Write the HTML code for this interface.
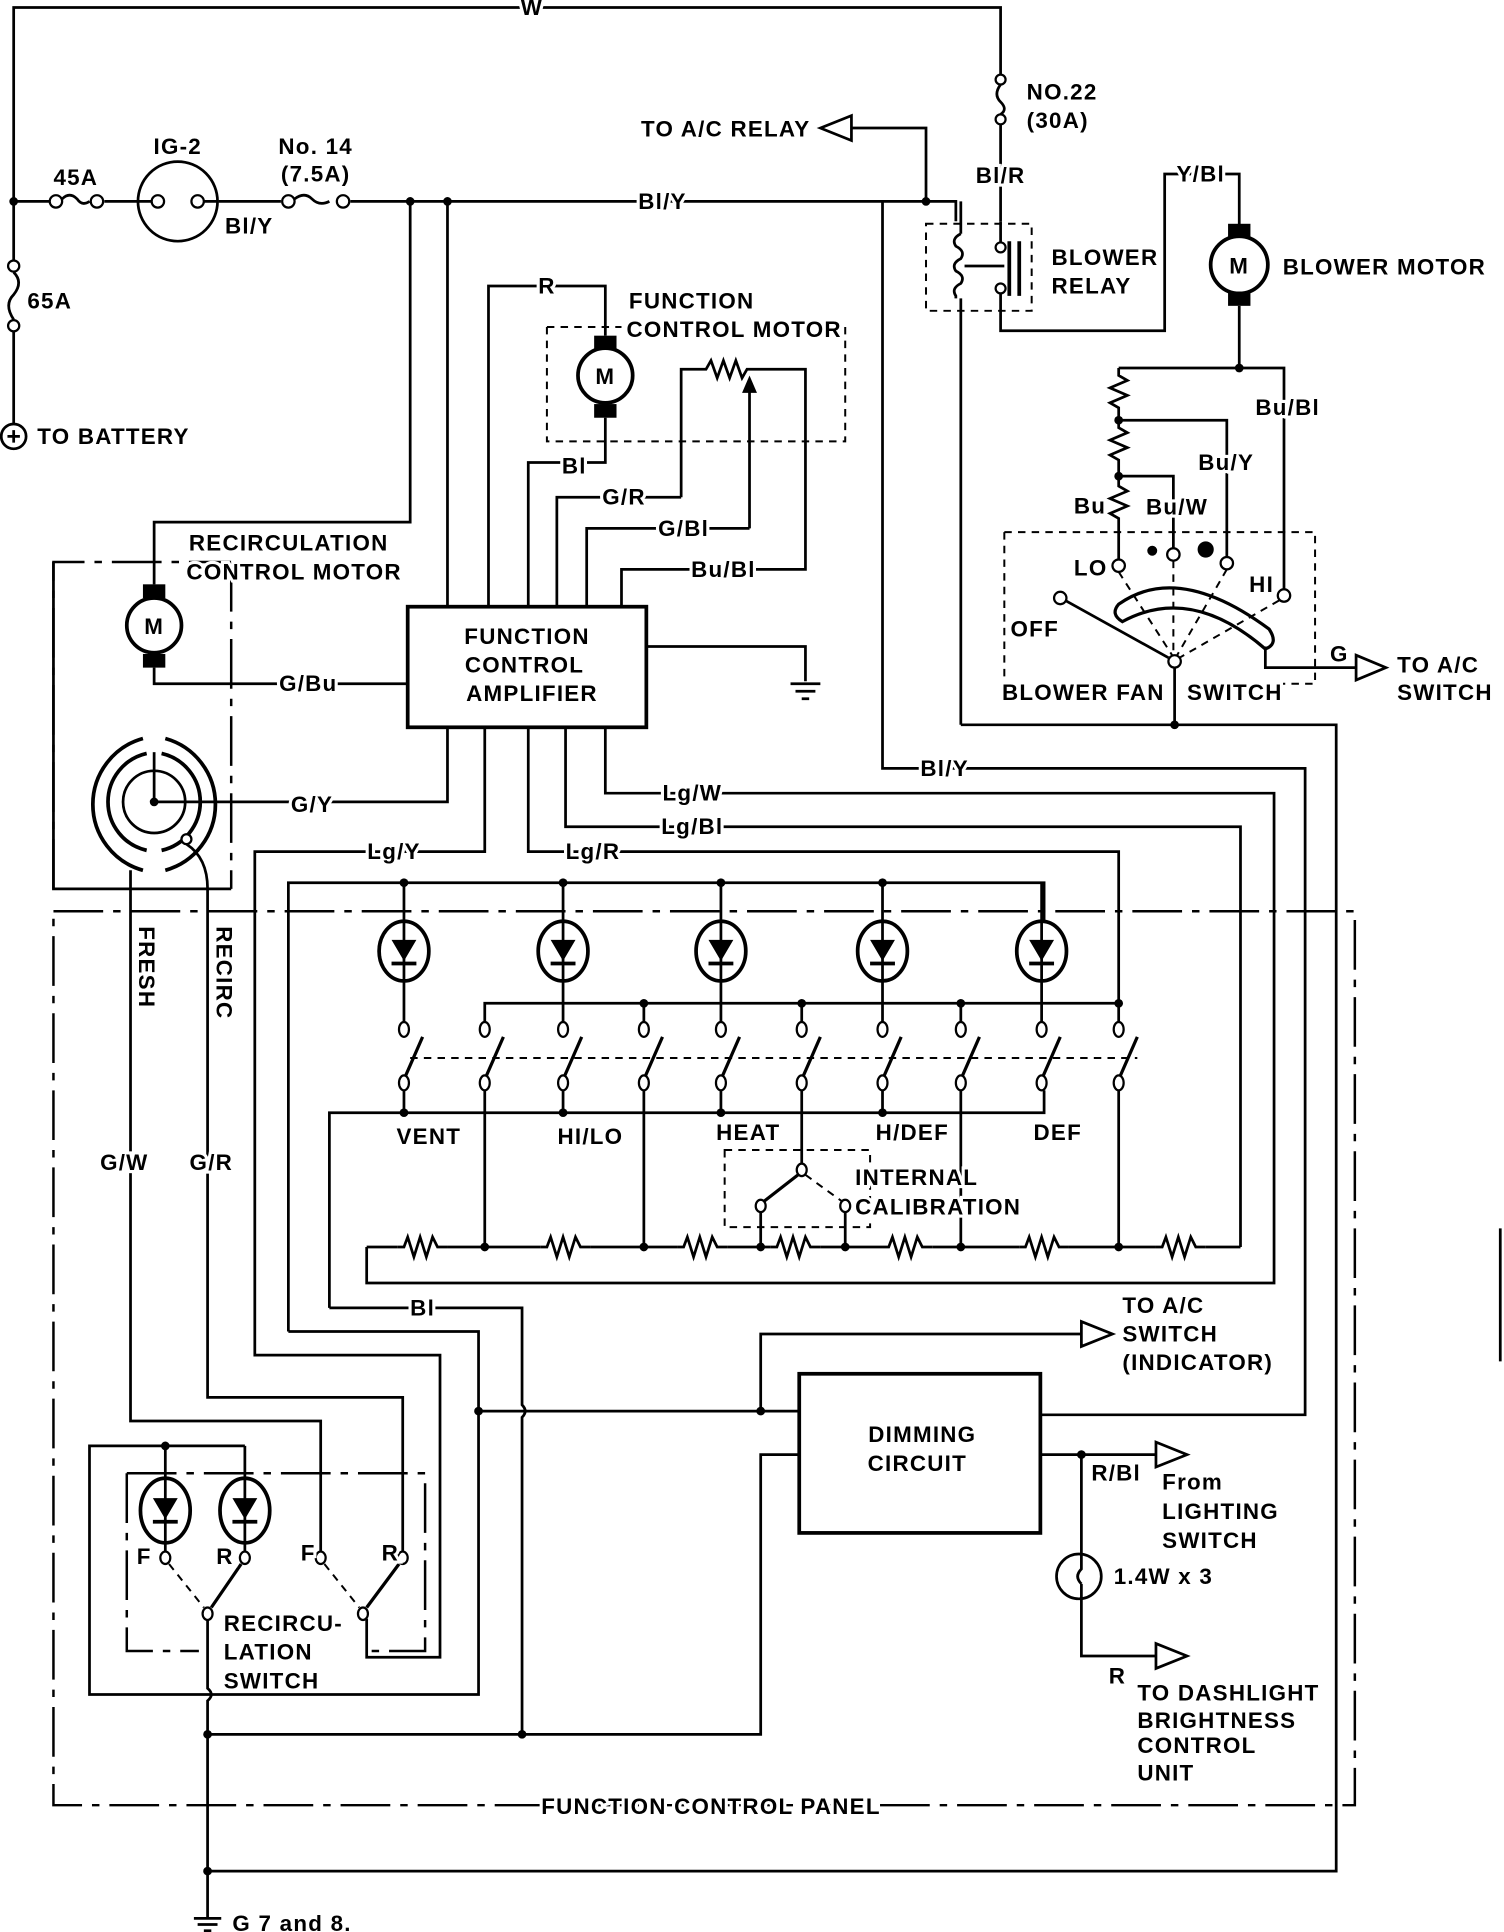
<!DOCTYPE html>
<html><head><meta charset="utf-8">
<style>
html,body{margin:0;padding:0;background:#fff;}
svg{display:block;}
text{font-family:"Liberation Sans",sans-serif;font-weight:bold;font-size:18px;fill:#000;stroke:#fff;stroke-width:5px;paint-order:stroke;letter-spacing:1px;}
.w{fill:none;stroke:#000;stroke-width:2.2;}
.t{fill:none;stroke:#000;stroke-width:3;}
.d{fill:none;stroke:#000;stroke-width:2;stroke-dasharray:40 8 6 8;}
.ds{fill:none;stroke:#000;stroke-width:1.6;stroke-dasharray:6 5;}
.c{fill:#fff;stroke:#000;stroke-width:1.8;}
.dot{fill:#000;stroke:none;}
</style></head>
<body>
<svg width="1504" height="1932" viewBox="0 0 1210 1554" preserveAspectRatio="none" xmlns="http://www.w3.org/2000/svg">
<rect width="1210" height="1554" fill="#fff"/>

<path class="w" d="M11 162 V6 H805 V60"/>
<path class="w" d="M805 100 V178"/>
<circle class="c" cx="805" cy="64" r="4"/><circle class="c" cx="805" cy="96" r="4"/>
<path class="w" d="M805 68 q-6 8 0 14 q6 6 0 10"/>
<path class="w" d="M11 162 H40"/><path class="w" d="M84 162 H112"/><path class="w" d="M176 162 H226"/>
<path class="w" d="M282 162 H769 V178"/>
<circle class="c" cx="45" cy="162" r="5"/><circle class="c" cx="78" cy="162" r="5"/>
<path class="w" d="M50 160 q6 -6 12 0 q4 6 10 2"/>
<circle class="w" cx="143" cy="162" r="32"/>
<circle class="c" cx="127" cy="162" r="5"/><circle class="c" cx="159" cy="162" r="5"/>
<path class="w" d="M111 162 H122 M164 162 H176"/>
<circle class="c" cx="232" cy="162" r="5"/><circle class="c" cx="276" cy="162" r="5"/>
<path class="w" d="M237 160 q8 -6 14 0 q6 6 14 2"/>
<circle class="dot" cx="11" cy="162" r="3.5"/>
<circle class="dot" cx="330" cy="162" r="3.5"/>
<circle class="dot" cx="360" cy="162" r="3.5"/>
<circle class="dot" cx="745" cy="162" r="3.5"/>
<path class="w" d="M11 162 V210"/>
<circle class="c" cx="11" cy="214" r="4.5"/><circle class="c" cx="11" cy="262" r="4.5"/>
<path class="w" d="M11 219 q8 8 0 18 q-8 8 0 20"/>
<path class="w" d="M11 267 V341"/>
<circle class="w" cx="11" cy="351" r="10"/>
<path class="w" d="M6 351 H16 M11 346 V356"/>

<path class="w" d="M745 162 V103 H685"/>
<path class="w" d="M685 93 L660 103 L685 113 Z"/>

<path class="ds" d="M745 180 H830 V250 H745 Z"/>
<path class="w" d="M773 162 V188 M773 240 V583"/>
<path class="w" d="M773 188 q-8 4 -4 10 q8 4 4 10 q-8 4 -4 10 q8 4 4 10 q-8 4 -4 10 V240"/>
<path class="w" d="M776 214 H808"/>
<path class="t" d="M812 194 V238 M820 194 V238"/>
<path class="w" d="M805 178 V195"/><circle class="c" cx="805" cy="199" r="4"/>
<circle class="c" cx="805" cy="232" r="4"/>
<path class="w" d="M805 236 V266 H937 V140 H997 V190"/>
<rect x="988" y="180" width="18" height="12" fill="#000"/>
<rect x="988" y="234" width="18" height="12" fill="#000"/>
<circle cx="997" cy="213" r="23" fill="#fff" stroke="#000" stroke-width="3"/>
<text x="997" y="220" text-anchor="middle" style="stroke:none">M</text>
<path class="w" d="M997 246 V296"/>
<circle class="dot" cx="997" cy="296" r="3.5"/>
<path class="w" d="M900 296 H1033 V474"/>
<path class="w" d="M900 296 V302 l7 4 l-14 6 l14 6 l-14 6 l7 4 V338 V344 l7 4 l-14 6 l14 6 l-14 6 l7 4 V383 V391 l7 4 l-14 6 l14 6 l-14 6 l7 4 V450"/>
<circle class="dot" cx="900" cy="338" r="3.5"/>
<circle class="dot" cx="900" cy="383" r="3.5"/>
<path class="w" d="M900 338 H987 V448"/>
<path class="w" d="M900 383 H944 V441"/>
<path class="ds" d="M808 428 H1058 V550 H1030 M808 428 V550"/>
<circle class="c" cx="900" cy="455" r="5"/>
<circle class="c" cx="944" cy="446" r="5"/>
<circle class="c" cx="987" cy="453" r="5"/>
<circle class="c" cx="1033" cy="479" r="5"/>
<circle class="c" cx="853" cy="481" r="5"/>
<circle class="dot" cx="927" cy="443" r="4"/>
<circle class="dot" cx="970" cy="442" r="6.5"/>
<path class="w" d="M900 486 Q948 452 1021 506 Q1029 518 1018 522 Q958 470 903 500 Q893 494 900 486 Z" style="stroke-width:2.6"/>
<circle class="c" cx="945" cy="532" r="5"/>
<path class="w" d="M857 483 L940 529"/>
<path class="ds" d="M900 460 L943 527 M944 451 V527 M987 458 L947 527 M1029 483 L949 529"/>
<path class="w" d="M1018 520 V537 H1091"/>
<path class="w" d="M1091 527 L1115 537 L1091 547 Z"/>
<path class="w" d="M945 537 V583"/>
<path class="w" d="M773 583 H1075 V1505 H167"/>
<circle class="dot" cx="945" cy="583" r="3.5"/>

<path class="ds" d="M440 263 V355 H680 V263 H655 M440 263 H500"/>
<rect x="478" y="270" width="18" height="11" fill="#000"/>
<rect x="478" y="325" width="18" height="11" fill="#000"/>
<circle cx="487" cy="302" r="22" fill="#fff" stroke="#000" stroke-width="3"/>
<text x="487" y="309" text-anchor="middle" style="stroke:none">M</text>
<path class="w" d="M487 270 V230 H393 V488"/>
<path class="w" d="M487 336 V372 H425 V488"/>
<path class="w" d="M548 400 V297 H568 l4 -7 l5 14 l5 -14 l5 14 l5 -14 l5 14 l4 -7 H648 V458 H500 V488"/>
<path class="w" d="M603 425 V312"/>
<path class="dot" d="M597 316 L603 302 L609 316 Z"/>
<path class="w" d="M548 400 H448 V488"/>
<path class="w" d="M603 425 H472 V488"/>

<path class="w" d="M330 162 V420 H124 V470"/>
<path class="d" d="M186 452 V715 M43 715 V452 H186"/>
<path class="w" d="M43 452 V715 H186"/>
<rect x="115" y="470" width="18" height="11" fill="#000"/>
<rect x="115" y="526" width="18" height="11" fill="#000"/>
<circle cx="124" cy="503" r="22" fill="#fff" stroke="#000" stroke-width="3"/>
<text x="124" y="510" text-anchor="middle" style="stroke:none">M</text>
<path class="w" d="M124 537 V550 H328"/>
<path class="t" d="M115 594 A55 55 0 0 0 115 700 M133 594 A55 55 0 0 1 133 700"/>
<path class="t" d="M118 606 A40 40 0 0 0 118 684 M130 606 A40 40 0 0 1 130 684"/>
<circle class="w" cx="124" cy="645" r="25"/>
<path class="w" d="M124 605 V645"/>
<circle class="dot" cx="124" cy="645" r="3.5"/>
<circle class="c" cx="150" cy="675" r="4"/>
<path class="w" d="M124 645 H360 V585 M360 488 V162"/>
<path class="w" d="M105 700 V1143 H258 V1248"/>
<path class="w" d="M150 679 Q167 690 167 715 V1124 H324 V1248"/>

<rect x="328" y="488" width="192" height="97" fill="#fff" stroke="#000" stroke-width="3"/>
<path class="w" d="M520 520 H648 V548"/>
<path class="w" d="M636 550 H660 M640 556 H656 M645 562 H651"/>
<path class="w" d="M390 585 V685 H205 V1090 H354 V1333 H295 V1302"/>
<path class="w" d="M425 585 V685 H900 V807"/>
<path class="w" d="M455 585 V665 H998 V1003"/>
<path class="w" d="M487 585 V638 H1025 V1032 H295 V1003"/>
<path class="w" d="M710 162 V618 H1050 V1138 H837"/>

<path class="d" d="M43 733 H1090 V1452 H43 Z"/>
<path class="w" d="M1207 988 V1095"/>

<path class="w" d="M232 1071 V710 H840 V745"/>
<circle class="dot" cx="325" cy="710" r="3.5"/><circle class="dot" cx="453" cy="710" r="3.5"/>
<circle class="dot" cx="580" cy="710" r="3.5"/><circle class="dot" cx="710" cy="710" r="3.5"/>
<path class="w" d="M325 710 V823 M453 710 V823 M580 710 V823 M710 710 V823 M838 710 V823"/>
<ellipse cx="325" cy="765" rx="20" ry="24" fill="#fff" stroke="#000" stroke-width="3"/>
<ellipse cx="453" cy="765" rx="20" ry="24" fill="#fff" stroke="#000" stroke-width="3"/>
<ellipse cx="580" cy="765" rx="20" ry="24" fill="#fff" stroke="#000" stroke-width="3"/>
<ellipse cx="710" cy="765" rx="20" ry="24" fill="#fff" stroke="#000" stroke-width="3"/>
<ellipse cx="838" cy="765" rx="20" ry="24" fill="#fff" stroke="#000" stroke-width="3"/>
<path class="w" d="M325 741 V789 M453 741 V789 M580 741 V789 M710 741 V789 M838 741 V789"/>
<path class="dot" d="M315 756 H335 L325 773 Z M443 756 H463 L453 773 Z M570 756 H590 L580 773 Z M700 756 H720 L710 773 Z M828 756 H848 L838 773 Z"/>
<path class="t" d="M315 775 H335 M443 775 H463 M570 775 H590 M700 775 H720 M828 775 H848"/>
<path class="w" d="M390 823 V807 H900 V823"/>
<path class="w" d="M518 807 V823 M645 807 V823 M773 807 V823"/>
<circle class="dot" cx="518" cy="807" r="3.5"/><circle class="dot" cx="645" cy="807" r="3.5"/>
<circle class="dot" cx="773" cy="807" r="3.5"/><circle class="dot" cx="900" cy="807" r="3.5"/>
<path class="ds" d="M330 851 H915"/>
<g>
<ellipse class="c" cx="325" cy="828" rx="4" ry="6"/><ellipse class="c" cx="325" cy="871" rx="4" ry="6"/>
<ellipse class="c" cx="390" cy="828" rx="4" ry="6"/><ellipse class="c" cx="390" cy="871" rx="4" ry="6"/>
<ellipse class="c" cx="453" cy="828" rx="4" ry="6"/><ellipse class="c" cx="453" cy="871" rx="4" ry="6"/>
<ellipse class="c" cx="518" cy="828" rx="4" ry="6"/><ellipse class="c" cx="518" cy="871" rx="4" ry="6"/>
<ellipse class="c" cx="580" cy="828" rx="4" ry="6"/><ellipse class="c" cx="580" cy="871" rx="4" ry="6"/>
<ellipse class="c" cx="645" cy="828" rx="4" ry="6"/><ellipse class="c" cx="645" cy="871" rx="4" ry="6"/>
<ellipse class="c" cx="710" cy="828" rx="4" ry="6"/><ellipse class="c" cx="710" cy="871" rx="4" ry="6"/>
<ellipse class="c" cx="773" cy="828" rx="4" ry="6"/><ellipse class="c" cx="773" cy="871" rx="4" ry="6"/>
<ellipse class="c" cx="838" cy="828" rx="4" ry="6"/><ellipse class="c" cx="838" cy="871" rx="4" ry="6"/>
<ellipse class="c" cx="900" cy="828" rx="4" ry="6"/><ellipse class="c" cx="900" cy="871" rx="4" ry="6"/>
</g>
<path class="w" style="stroke-width:2.6" d="M326 866 L340 834 M391 866 L405 834 M454 866 L468 834 M519 866 L533 834 M581 866 L595 834 M646 866 L660 834 M711 866 L725 834 M774 866 L788 834 M839 866 L853 834 M901 866 L915 834"/>
<path class="w" d="M265 1052 V895 H840 V877"/>
<path class="w" d="M325 877 V895 M453 877 V895 M580 877 V895 M710 877 V895"/>
<circle class="dot" cx="325" cy="895" r="3.5"/><circle class="dot" cx="453" cy="895" r="3.5"/>
<circle class="dot" cx="580" cy="895" r="3.5"/><circle class="dot" cx="710" cy="895" r="3.5"/>
<path class="w" d="M390 877 V1003 M518 877 V1003 M645 877 V936 M773 877 V1003 M900 877 V1003"/>
<path class="ds" d="M583 925 H700 V987 H583 Z"/>
<ellipse class="c" cx="645" cy="941" rx="4" ry="5"/>
<ellipse class="c" cx="612" cy="970" rx="4" ry="5"/>
<ellipse class="c" cx="680" cy="970" rx="4" ry="5"/>
<path class="w" style="stroke-width:2.6" d="M642 945 L615 966"/>
<path class="ds" d="M648 945 L677 966"/>
<path class="w" d="M612 975 V1003 M680 975 V1003"/>
<path class="w" d="M295 1003 H998"/>
<g fill="#fff" stroke="none">
<rect x="320" y="995" width="40" height="16"/><rect x="435" y="995" width="40" height="16"/>
<rect x="545" y="995" width="40" height="16"/><rect x="620" y="995" width="40" height="16"/>
<rect x="710" y="995" width="40" height="16"/><rect x="820" y="995" width="40" height="16"/>
<rect x="930" y="995" width="40" height="16"/>
</g>
<path class="w" d="M320 1003 l5 0 l3 -8 l5 16 l5 -16 l5 16 l5 -16 l4 8 l8 0
M435 1003 l5 0 l3 -8 l5 16 l5 -16 l5 16 l5 -16 l4 8 l8 0
M545 1003 l5 0 l3 -8 l5 16 l5 -16 l5 16 l5 -16 l4 8 l8 0
M620 1003 l5 0 l3 -8 l5 16 l5 -16 l5 16 l5 -16 l4 8 l8 0
M710 1003 l5 0 l3 -8 l5 16 l5 -16 l5 16 l5 -16 l4 8 l8 0
M820 1003 l5 0 l3 -8 l5 16 l5 -16 l5 16 l5 -16 l4 8 l8 0
M930 1003 l5 0 l3 -8 l5 16 l5 -16 l5 16 l5 -16 l4 8 l8 0"/>
<circle class="dot" cx="390" cy="1003" r="3.5"/><circle class="dot" cx="518" cy="1003" r="3.5"/>
<circle class="dot" cx="612" cy="1003" r="3.5"/><circle class="dot" cx="680" cy="1003" r="3.5"/>
<circle class="dot" cx="773" cy="1003" r="3.5"/><circle class="dot" cx="900" cy="1003" r="3.5"/>

<path class="w" d="M265 1052 H420 V1130 q5 5 0 10 V1395"/>
<path class="w" d="M232 1071 H385 V1363 H72 V1163 H197"/>
<path class="w" d="M385 1135 H643"/>
<circle class="dot" cx="385" cy="1135" r="3.5"/>
<circle class="dot" cx="612" cy="1135" r="3.5"/>
<path class="w" d="M612 1135 V1073 H870"/>
<path class="w" d="M870 1063 L895 1073 L870 1083 Z"/>
<path class="w" d="M643 1170 H612 V1395 H167"/>
<circle class="dot" cx="420" cy="1395" r="3.5"/>
<circle class="dot" cx="167" cy="1395" r="3.5"/>
<rect x="643" y="1105" width="194" height="128" fill="#fff" stroke="#000" stroke-width="3"/>
<path class="w" d="M837 1170 H930"/>
<circle class="dot" cx="870" cy="1170" r="3.5"/>
<path class="w" d="M930 1160 L955 1170 L930 1180 Z"/>
<path class="w" d="M870 1170 V1250 M870 1286 V1332 H930"/>
<path class="w" d="M930 1322 L955 1332 L930 1342 Z"/>
<circle class="w" cx="868" cy="1268" r="18"/>
<path class="w" d="M870 1250 V1262 q-6 6 0 12 M870 1274 V1286"/>

<circle class="dot" cx="133" cy="1163" r="3.5"/>
<path class="d" d="M102 1185 H342 V1328 H295 M102 1185 V1328 H160"/>
<path class="w" d="M133 1163 V1248 M197 1163 V1248"/>
<ellipse cx="133" cy="1215" rx="20" ry="26" fill="#fff" stroke="#000" stroke-width="3"/>
<ellipse cx="197" cy="1215" rx="20" ry="26" fill="#fff" stroke="#000" stroke-width="3"/>
<path class="w" d="M133 1189 V1241 M197 1189 V1241"/>
<path class="dot" d="M123 1205 H143 L133 1222 Z M187 1205 H207 L197 1222 Z"/>
<path class="t" d="M123 1224 H143 M187 1224 H207"/>
<ellipse class="c" cx="133" cy="1253" rx="4" ry="5"/><ellipse class="c" cx="197" cy="1253" rx="4" ry="5"/>
<ellipse class="c" cx="258" cy="1253" rx="4" ry="5"/><ellipse class="c" cx="324" cy="1253" rx="4" ry="5"/>
<ellipse class="c" cx="167" cy="1298" rx="4" ry="5"/><ellipse class="c" cx="292" cy="1298" rx="4" ry="5"/>
<path class="ds" d="M136 1258 L164 1293 M261 1258 L289 1293"/>
<path class="w" style="stroke-width:2.6" d="M194 1258 L170 1293 M321 1258 L295 1293"/>
<path class="w" d="M167 1303 V1358 q6 5 0 10 V1543"/>
<circle class="dot" cx="167" cy="1505" r="3.5"/>
<path class="w" d="M156 1543 H178 M159 1548 H175 M164 1553 H170"/>

<text x="428" y="12" text-anchor="middle">W</text>
<text x="826" y="80">NO.22</text>
<text x="826" y="103">(30A)</text>
<text x="652" y="110" text-anchor="end">TO A/C RELAY</text>
<text x="805" y="147" text-anchor="middle">Bl/R</text>
<text x="966" y="146" text-anchor="middle">Y/Bl</text>
<text x="846" y="213">BLOWER</text>
<text x="846" y="236">RELAY</text>
<text x="1032" y="221">BLOWER MOTOR</text>
<text x="1010" y="334">Bu/Bl</text>
<text x="964" y="378">Bu/Y</text>
<text x="864" y="413">Bu</text>
<text x="922" y="414">Bu/W</text>
<text x="864" y="463">LO</text>
<text x="1005" y="476">HI</text>
<text x="813" y="512">OFF</text>
<text x="937" y="563" text-anchor="end">BLOWER FAN</text>
<text x="955" y="563">SWITCH</text>
<text x="1070" y="532">G</text>
<text x="1124" y="541">TO A/C</text>
<text x="1124" y="563">SWITCH</text>
<text x="143" y="124" text-anchor="middle">IG-2</text>
<text x="61" y="149" text-anchor="middle">45A</text>
<text x="254" y="124" text-anchor="middle">No. 14</text>
<text x="254" y="146" text-anchor="middle">(7.5A)</text>
<text x="181" y="188">Bl/Y</text>
<text x="22" y="248">65A</text>
<text x="30" y="357">TO BATTERY</text>
<text x="533" y="168" text-anchor="middle">Bl/Y</text>
<text x="440" y="236" text-anchor="middle">R</text>
<text x="506" y="248">FUNCTION</text>
<text x="504" y="271">CONTROL MOTOR</text>
<text x="462" y="381" text-anchor="middle">Bl</text>
<text x="502" y="406" text-anchor="middle">G/R</text>
<text x="550" y="431" text-anchor="middle">G/Bl</text>
<text x="582" y="464" text-anchor="middle">Bu/Bl</text>
<text x="152" y="443">RECIRCULATION</text>
<text x="150" y="466">CONTROL MOTOR</text>
<text x="424" y="518" text-anchor="middle" style="stroke:none">FUNCTION</text>
<text x="422" y="541" text-anchor="middle" style="stroke:none">CONTROL</text>
<text x="428" y="564" text-anchor="middle" style="stroke:none">AMPLIFIER</text>
<text x="248" y="556" text-anchor="middle">G/Bu</text>
<text x="251" y="653" text-anchor="middle">G/Y</text>
<text x="760" y="624" text-anchor="middle">Bl/Y</text>
<text x="557" y="644" text-anchor="middle">Lg/W</text>
<text x="557" y="671" text-anchor="middle">Lg/Bl</text>
<text x="317" y="691" text-anchor="middle">Lg/Y</text>
<text x="477" y="691" text-anchor="middle">Lg/R</text>
<text transform="translate(112,745) rotate(90)">FRESH</text>
<text transform="translate(174,745) rotate(90)">RECIRC</text>
<text x="100" y="941" text-anchor="middle">G/W</text>
<text x="170" y="941" text-anchor="middle">G/R</text>
<text x="345" y="920" text-anchor="middle">VENT</text>
<text x="475" y="920" text-anchor="middle">HI/LO</text>
<text x="602" y="917" text-anchor="middle">HEAT</text>
<text x="734" y="917" text-anchor="middle">H/DEF</text>
<text x="851" y="917" text-anchor="middle">DEF</text>
<text x="688" y="953">INTERNAL</text>
<text x="688" y="977">CALIBRATION</text>
<text x="340" y="1058" text-anchor="middle">Bl</text>
<text x="903" y="1056">TO A/C</text>
<text x="903" y="1079">SWITCH</text>
<text x="903" y="1102">(INDICATOR)</text>
<text x="742" y="1160" text-anchor="middle" style="stroke:none">DIMMING</text>
<text x="738" y="1183" text-anchor="middle" style="stroke:none">CIRCUIT</text>
<text x="878" y="1191">R/Bl</text>
<text x="935" y="1198">From</text>
<text x="935" y="1222">LIGHTING</text>
<text x="935" y="1245">SWITCH</text>
<text x="896" y="1274">1.4W x 3</text>
<text x="892" y="1354">R</text>
<text x="915" y="1368">TO DASHLIGHT</text>
<text x="915" y="1390">BRIGHTNESS</text>
<text x="915" y="1410">CONTROL</text>
<text x="915" y="1432">UNIT</text>
<text x="116" y="1258" text-anchor="middle">F</text>
<text x="181" y="1258" text-anchor="middle">R</text>
<text x="248" y="1255" text-anchor="middle">F</text>
<text x="314" y="1255" text-anchor="middle">R</text>
<text x="180" y="1312">RECIRCU-</text>
<text x="180" y="1335">LATION</text>
<text x="180" y="1358">SWITCH</text>
<text x="572" y="1459" text-anchor="middle">FUNCTION CONTROL PANEL</text>
<text x="187" y="1553">G 7 and 8.</text>
</svg>
</body></html>
